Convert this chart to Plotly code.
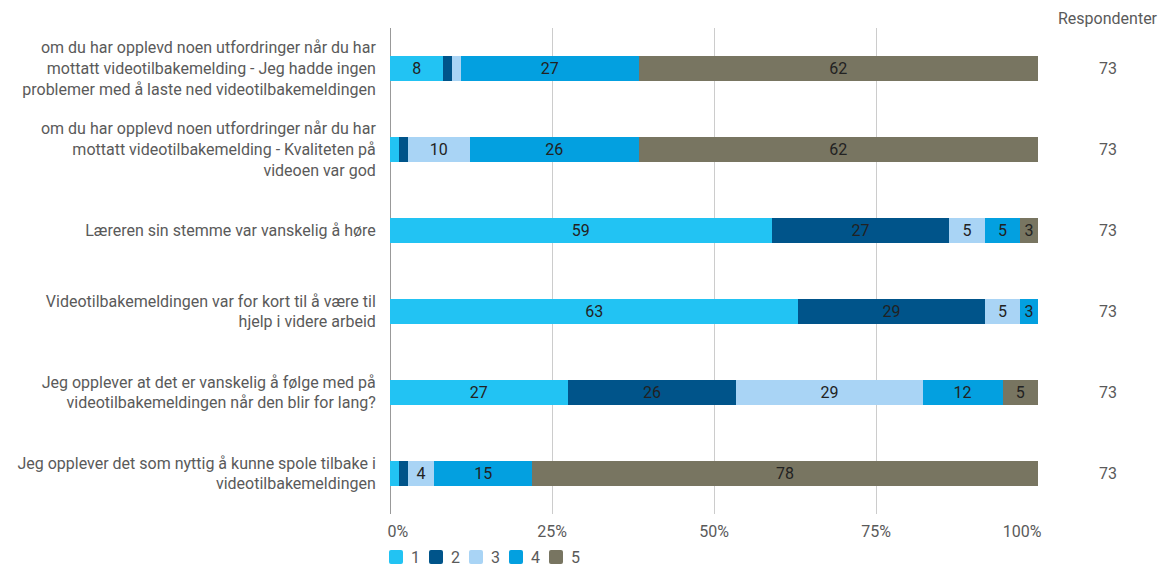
import plotly.graph_objects as go

# Survey statements (top to bottom)
questions = [
    "om du har opplevd noen utfordringer når du har<br>mottatt videotilbakemelding - Jeg hadde ingen<br>problemer med å laste ned videotilbakemeldingen",
    "om du har opplevd noen utfordringer når du har<br>mottatt videotilbakemelding - Kvaliteten på<br>videoen var god",
    "Læreren sin stemme var vanskelig å høre",
    "Videotilbakemeldingen var for kort til å være til<br>hjelp i videre arbeid",
    "Jeg opplever at det er vanskelig å følge med på<br>videotilbakemeldingen når den blir for lang?",
    "Jeg opplever det som nyttig å kunne spole tilbake i<br>videotilbakemeldingen",
]

# Share of answers (%) per scale value, one list per answer option
pct_1 = [8.22, 1.37, 58.90, 63.01, 27.40, 1.37]
pct_2 = [1.37, 1.37, 27.40, 28.77, 26.03, 1.37]
pct_3 = [1.37, 9.59, 5.48, 5.48, 28.77, 4.11]
pct_4 = [27.40, 26.03, 5.48, 2.74, 12.33, 15.07]
pct_5 = [61.64, 61.64, 2.74, 0.00, 5.48, 78.08]

respondents = [73, 73, 73, 73, 73, 73]

series_names = ["1", "2", "3", "4", "5"]
series_values = [pct_1, pct_2, pct_3, pct_4, pct_5]
series_colors = ["#22c3f3", "#00548a", "#a9d4f5", "#03a0e0", "#787561"]

x_tick_vals = [0, 25, 50, 75, 100]
# edge labels are nudged inward so they stay inside the axis span
NB = "\u00a0"
x_tick_text = [NB * 4 + "0%", "25%", "50%", "75%", "100%" + NB * 8]

FONT = "Roboto, Arial, sans-serif"
TEXT_COLOR = "#5a5a5a"
FS = 16

# Plot-area geometry in pixels
W, H = 1162, 568
M_L, M_R, M_T, M_B = 390, 124, 28, 54
PW = W - M_L - M_R
PH = H - M_T - M_B

fig = go.Figure()
for name, vals, color in zip(series_names, series_values, series_colors):
    labels = [f"{v:.0f}" if v >= 2 else "" for v in vals]
    fig.add_trace(go.Bar(
        name=name,
        y=questions,
        x=vals,
        orientation="h",
        marker=dict(color=color, line=dict(width=0)),
        text=labels,
        textposition="inside",
        insidetextanchor="middle",
        textangle=0,
        textfont=dict(family=FONT, size=FS, color="#222222"),
        hoverinfo="x+name",
        showlegend=False,
    ))

# Respondent count column to the right of the plot area
col_x = 1 + 70 / PW
annotations = [dict(
    x=col_x, y=1, xref="paper", yref="paper", xanchor="center",
    yanchor="middle", yshift=10,
    text="Respondenter", showarrow=False,
    font=dict(family=FONT, size=FS, color=TEXT_COLOR),
)]
for q, n in zip(questions, respondents):
    annotations.append(dict(
        x=col_x, y=q, xref="paper", yref="y", xanchor="center",
        text=str(n), showarrow=False,
        font=dict(family=FONT, size=FS, color=TEXT_COLOR),
    ))

# Legend below the axis: rounded swatches with labels
shapes = []
r = 2
half = 7
sw_path = (
    f"M{-half + r},{-half} H{half - r} Q{half},{-half} {half},{-half + r} "
    f"V{half - r} Q{half},{half} {half - r},{half} H{-half + r} "
    f"Q{-half},{half} {-half},{half - r} V{-half + r} Q{-half},{-half} {-half + r},{-half} Z"
)
leg_y = -43 / PH
for i, (name, color) in enumerate(zip(series_names, series_colors)):
    cx = (i * 40 + 6) / PW
    shapes.append(dict(
        type="path", xref="paper", yref="paper",
        xsizemode="pixel", ysizemode="pixel",
        xanchor=cx, yanchor=leg_y, path=sw_path,
        fillcolor=color, line=dict(width=0),
    ))
    annotations.append(dict(
        x=(i * 40 + 19) / PW, y=leg_y, xref="paper", yref="paper",
        xanchor="left", yanchor="middle", text=name, showarrow=False,
        font=dict(family=FONT, size=FS, color=TEXT_COLOR),
    ))

fig.update_layout(
    width=W, height=H,
    margin=dict(l=M_L, r=M_R, t=M_T, b=M_B, autoexpand=False),
    barmode="stack",
    bargap=0.69,
    plot_bgcolor="white",
    paper_bgcolor="white",
    font=dict(family=FONT, size=FS, color=TEXT_COLOR),
    annotations=annotations,
    shapes=shapes,
    uniformtext=dict(minsize=FS, mode="show"),
    showlegend=False,
)
fig.update_xaxes(
    range=[0, 100],
    tickvals=x_tick_vals,
    ticktext=x_tick_text,
    showgrid=True, gridcolor="#cccccc", gridwidth=1,
    zeroline=True, zerolinecolor="#999999", zerolinewidth=1,
    showline=False, automargin=False,
    ticks="outside", ticklen=3, tickcolor="rgba(0,0,0,0)",
    tickfont=dict(family=FONT, size=FS, color=TEXT_COLOR),
    fixedrange=True,
)
fig.update_yaxes(
    autorange="reversed",
    showgrid=False, zeroline=False, showline=False, automargin=False,
    ticks="outside", ticklen=10, tickcolor="rgba(0,0,0,0)",
    tickfont=dict(family=FONT, size=FS, color=TEXT_COLOR),
    fixedrange=True,
)

fig.write_html("out.html")
